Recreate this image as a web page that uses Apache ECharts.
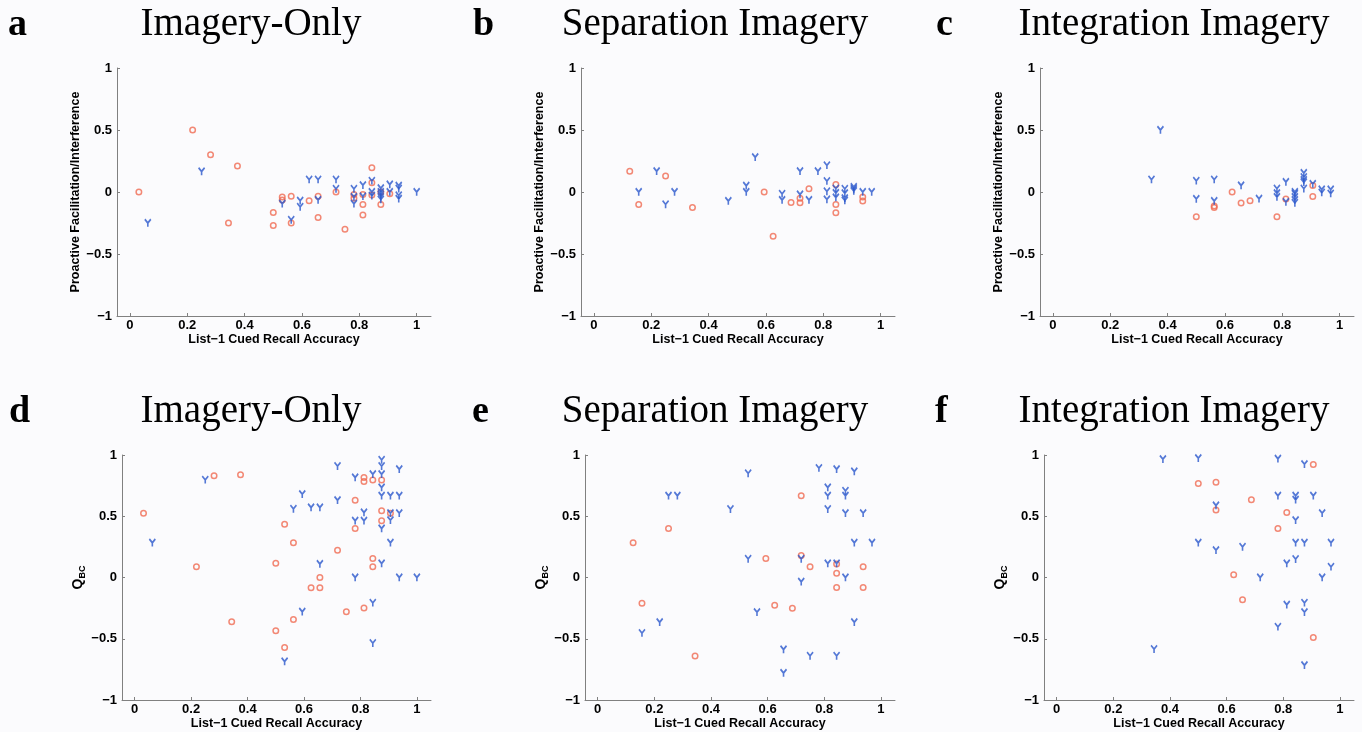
<!DOCTYPE html>
<html><head><meta charset="utf-8">
<script src="https://cdn.jsdelivr.net/npm/echarts@6/dist/echarts.min.js"></script>
<style>html,body{margin:0;padding:0;background:#fbfbfd}#c{width:1362px;height:732px}</style>
</head><body><div id="c"></div><script>
// ---------- tick labels & text ----------
const xTicks = [0, 0.2, 0.4, 0.6, 0.8, 1];
const yTicks = [-1, -0.5, 0, 0.5, 1];
const panelLetters = ['a', 'b', 'c', 'd', 'e', 'f'];
const panelTitles = ['Imagery-Only', 'Separation Imagery', 'Integration Imagery',
                     'Imagery-Only', 'Separation Imagery', 'Integration Imagery'];
const xAxisName = 'List\u22121 Cued Recall Accuracy';
const yAxisNameTop = 'Proactive Facilitation/Interference';

// ---------- data: [List-1 accuracy, value] ----------
// Panel a (Proactive facilitation/interference, Imagery-Only)
const aCircles = [[0.03125,0],[0.21875,0.50],[0.28125,0.30],[0.34375,-0.25],[0.375,0.21],[0.5,-0.165],[0.5,-0.27],
  [0.53125,-0.04],[0.53125,-0.065],[0.5625,-0.035],[0.5625,-0.25],[0.625,-0.07],[0.65625,-0.035],[0.65625,-0.205],
  [0.71875,0.0],[0.75,-0.30],[0.78125,-0.02],[0.78125,-0.05],[0.8125,-0.02],[0.8125,-0.10],[0.8125,-0.185],[0.84375,0.195],
  [0.84375,0.075],[0.84375,-0.025],[0.875,0.0],[0.875,-0.10],[0.90625,-0.015]];
const aYs = [[0.0625,-0.25],[0.25,0.165],[0.53125,-0.095],[0.5625,-0.225],[0.59375,-0.07],[0.59375,-0.12],[0.625,0.10],
  [0.65625,0.10],[0.65625,-0.065],[0.71875,0.10],[0.71875,0.025],[0.78125,0.025],[0.78125,-0.04],[0.78125,-0.095],
  [0.8125,0.055],[0.8125,-0.035],[0.84375,0.09],[0.84375,0.0],[0.84375,-0.03],[0.875,0.03],[0.875,0.0],[0.875,-0.02],
  [0.875,-0.04],[0.875,-0.06],[0.90625,0.06],[0.90625,0.0],[0.9375,0.05],[0.9375,0.027],[0.9375,-0.027],[0.9375,-0.055],[1.0,0.0]];
// Panel b (Separation Imagery)
const bCircles = [[0.125,0.167],[0.15625,-0.10],[0.25,0.13],[0.34375,-0.124],[0.59375,0.0],[0.625,-0.357],[0.6875,-0.085],
  [0.71875,-0.05],[0.71875,-0.087],[0.75,0.027],[0.84375,0.06],[0.84375,-0.10],[0.84375,-0.167],[0.9375,-0.04],[0.9375,-0.073]];
const bYs = [[0.15625,0.0],[0.21875,0.167],[0.25,-0.10],[0.28125,0.0],[0.46875,-0.073],[0.53125,0.05],[0.53125,0.0],[0.5625,0.28],
  [0.65625,-0.015],[0.65625,-0.065],[0.71875,0.167],[0.71875,-0.02],[0.75,-0.065],[0.78125,0.167],[0.8125,0.215],[0.8125,0.088],
  [0.8125,0.005],[0.8125,-0.06],[0.84375,0.027],[0.84375,-0.008],[0.84375,-0.045],[0.875,0.025],[0.875,-0.01],[0.875,-0.05],
  [0.875,-0.068],[0.90625,0.04],[0.90625,0.024],[0.90625,0.008],[0.9375,0.0],[0.96875,0.0]];
// Panel c (Integration Imagery)
const cCircles = [[0.5,-0.20],[0.5625,-0.113],[0.5625,-0.126],[0.625,0.0],[0.65625,-0.088],[0.6875,-0.07],[0.78125,-0.20],
  [0.8125,-0.056],[0.90625,0.052],[0.90625,-0.037]];
const cYs = [[0.34375,0.10],[0.375,0.50],[0.5,0.09],[0.5,-0.056],[0.5625,0.10],[0.5625,-0.073],[0.65625,0.052],[0.71875,-0.055],
  [0.78125,0.027],[0.78125,-0.01],[0.78125,-0.04],[0.8125,0.08],[0.8125,-0.08],[0.84375,0.0],[0.84375,-0.015],[0.84375,-0.04],
  [0.84375,-0.065],[0.84375,-0.088],[0.875,0.153],[0.875,0.12],[0.875,0.097],[0.875,0.078],[0.875,0.027],[0.90625,0.065],
  [0.9375,0.02],[0.9375,-0.005],[0.96875,0.02],[0.96875,-0.013]];
// Panel d (Q_BC, Imagery-Only)
const dCircles = [[0.03125,0.525],[0.21875,0.087],[0.28125,0.83],[0.34375,-0.362],[0.375,0.838],[0.5,0.117],[0.5,-0.435],
  [0.53125,0.435],[0.53125,-0.571],[0.5625,0.283],[0.5625,-0.343],[0.625,-0.084],[0.65625,0.0],[0.65625,-0.084],[0.71875,0.223],
  [0.75,-0.28],[0.78125,0.63],[0.78125,0.40],[0.8125,0.816],[0.8125,0.784],[0.8125,-0.248],[0.84375,0.795],[0.84375,0.155],
  [0.84375,0.087],[0.875,0.795],[0.875,0.544],[0.875,0.463],[0.90625,0.525]];
const dYs = [[0.0625,0.283],[0.25,0.797],[0.53125,-0.686],[0.5625,0.56],[0.59375,0.68],[0.59375,-0.28],[0.625,0.571],[0.65625,0.571],
  [0.65625,0.11],[0.71875,0.909],[0.71875,0.63],[0.78125,0.816],[0.78125,0.463],[0.78125,0.0],[0.8125,0.53],[0.8125,0.463],
  [0.84375,0.843],[0.84375,-0.207],[0.84375,-0.536],[0.875,0.96],[0.875,0.909],[0.875,0.843],[0.875,0.735],[0.875,0.667],
  [0.875,0.40],[0.875,0.114],[0.90625,0.667],[0.90625,0.525],[0.90625,0.468],[0.90625,0.283],[0.9375,0.884],[0.9375,0.667],
  [0.9375,0.525],[0.9375,0.0],[1.0,0.0]];
// Panel e (Separation Imagery)
const eCircles = [[0.125,0.283],[0.15625,-0.21],[0.25,0.40],[0.34375,-0.64],[0.59375,0.155],[0.625,-0.226],[0.6875,-0.25],
  [0.71875,0.667],[0.71875,0.18],[0.75,0.087],[0.84375,0.11],[0.84375,0.035],[0.84375,-0.082],[0.9375,0.087],[0.9375,-0.082]];
const eYs = [[0.15625,-0.454],[0.21875,-0.365],[0.25,0.667],[0.28125,0.667],[0.46875,0.558],[0.53125,0.85],[0.53125,0.152],
  [0.5625,-0.283],[0.65625,-0.588],[0.65625,-0.78],[0.71875,0.152],[0.71875,-0.035],[0.75,-0.64],[0.78125,0.893],[0.8125,0.735],
  [0.8125,0.667],[0.8125,0.558],[0.8125,0.114],[0.84375,0.884],[0.84375,0.114],[0.84375,-0.64],[0.875,0.707],[0.875,0.667],
  [0.875,0.525],[0.875,0.0],[0.90625,0.865],[0.90625,0.283],[0.90625,-0.365],[0.9375,0.525],[0.96875,0.283]];
// Panel f (Integration Imagery)
const fCircles = [[0.5,0.767],[0.5625,0.778],[0.5625,0.552],[0.625,0.022],[0.65625,-0.182],[0.6875,0.634],[0.78125,0.40],
  [0.8125,0.53],[0.90625,0.922],[0.90625,-0.49]];
const fYs = [[0.34375,-0.585],[0.375,0.966],[0.5,0.974],[0.5,0.283],[0.5625,0.588],[0.5625,0.223],[0.65625,0.25],[0.71875,0.0],
  [0.78125,0.969],[0.78125,0.667],[0.78125,-0.403],[0.8125,0.114],[0.8125,-0.223],[0.84375,0.667],[0.84375,0.634],[0.84375,0.468],
  [0.84375,0.283],[0.84375,0.15],[0.875,0.925],[0.875,0.283],[0.875,-0.207],[0.875,-0.283],[0.875,-0.716],[0.90625,0.667],
  [0.9375,0.525],[0.9375,0.0],[0.96875,0.283],[0.96875,0.087]];

const circleSets = [aCircles, bCircles, cCircles, dCircles, eCircles, fCircles];
const ySets = [aYs, bYs, cYs, dYs, eYs, fYs];

// ---------- layout / style ----------
const grids = [
  {left:117, top:68, width:314, height:248},
  {left:581, top:68, width:314, height:248},
  {left:1040, top:68, width:314, height:248},
  {left:122, top:455, width:309, height:245},
  {left:585, top:455, width:310, height:245},
  {left:1044, top:455, width:310, height:245}
];
const titlePos = [
  {lx:8, cx:251, y:25}, {lx:473, cx:715, y:25}, {lx:936, cx:1174, y:25},
  {lx:9, cx:251, y:412}, {lx:472, cx:715, y:412}, {lx:935, cx:1174, y:412}
];
const RED = '#f06c52', BLUE = '#2a58cc', AXIS = '#808080';
const SANS = '"Liberation Sans", Arial, sans-serif';
const SERIF = '"Liberation Serif", "Times New Roman", serif';
const Y_PATH = 'path://M0,0 L4,5 L8,0 M4,5 L4,10';

const fmt = v => (v < 0 ? '\u2212' + Math.abs(v) : String(v));

const xAxes = [], yAxes = [], series = [], graphics = [];
grids.forEach((g, i) => {
  xAxes.push({
    type:'value', gridIndex:i, min:-0.045, max:1.05,
    name:xAxisName, nameLocation:'middle', nameGap:16,
    nameTextStyle:{fontFamily:SANS, fontWeight:'bold', fontSize:12.5, color:'#000'},
    axisLine:{show:true, onZero:false, lineStyle:{color:AXIS, width:1}},
    axisTick:{show:true, inside:true, length:3, customValues:xTicks, lineStyle:{color:AXIS}},
    axisLabel:{show:true, customValues:xTicks, formatter:fmt, fontFamily:SANS, fontWeight:'bold', fontSize:13, color:'#000', margin:3},
    splitLine:{show:false}
  });
  const isTop = i < 3;
  yAxes.push({
    type:'value', gridIndex:i, min:-1, max:1, interval:0.5,
    name: isTop ? yAxisNameTop : '{q|Q}{s|BC}',
    nameLocation:'middle', nameGap: isTop ? 28 : 31, nameRotate:90,
    nameTextStyle:{fontFamily:SANS, fontWeight:'bold', fontSize:12.5, color:'#000',
      rich:{q:{fontFamily:SANS, fontWeight:'bold', fontSize:14, color:'#000'},
            s:{fontFamily:SANS, fontWeight:'bold', fontSize:9, color:'#000', padding:[9,0,0,0]}}},
    axisLine:{show:true, onZero:false, lineStyle:{color:AXIS, width:1}},
    axisTick:{show:true, inside:true, length:3, lineStyle:{color:AXIS}},
    axisLabel:{show:true, formatter:fmt, fontFamily:SANS, fontWeight:'bold', fontSize:13, color:'#000', margin:5},
    splitLine:{show:false}
  });
  series.push({
    type:'scatter', xAxisIndex:i, yAxisIndex:i, data:circleSets[i],
    symbol:'circle', symbolSize:5.5, silent:true,
    itemStyle:{color:'transparent', borderColor:RED, borderWidth:1.5}
  });
  series.push({
    type:'scatter', xAxisIndex:i, yAxisIndex:i, data:ySets[i],
    symbol:Y_PATH, symbolSize:[6,7.5], silent:true,
    itemStyle:{color:'transparent', borderColor:BLUE, borderWidth:1.8}
  });
  const t = titlePos[i];
  graphics.push({type:'text', x:t.lx, y:t.y, style:{text:panelLetters[i], font:'bold 38px ' + SERIF, fill:'#000', textAlign:'left', textVerticalAlign:'middle', verticalAlign:'middle'}});
  graphics.push({type:'text', x:t.cx, y:t.y, style:{text:panelTitles[i], font:'39px ' + SERIF, fill:'#000', textAlign:'center', textVerticalAlign:'middle', verticalAlign:'middle'}});
});

const chart = echarts.init(document.getElementById('c'), null, {renderer:'canvas'});
chart.setOption({
  backgroundColor:'#fbfbfd',
  animation:false,
  grid: grids,
  xAxis: xAxes,
  yAxis: yAxes,
  series: series,
  graphic: graphics
});
</script></body></html>
